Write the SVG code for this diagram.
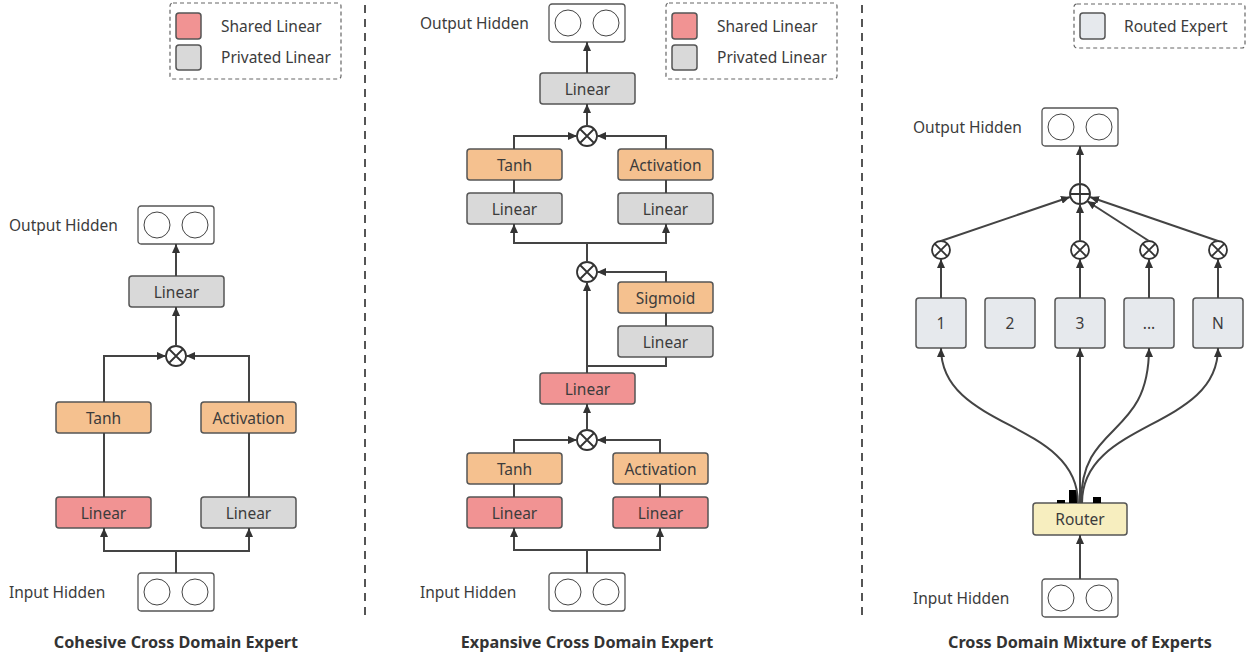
<svg xmlns="http://www.w3.org/2000/svg" width="1256" height="655" viewBox="0 0 1256 655">
  <style>
    text { font-family: "Noto Sans", "Open Sans", sans-serif; font-size: 15.5px; fill: #3c3c3c; }
    .c { text-anchor: middle; dominant-baseline: central; }
    .title { font-weight: bold; font-size: 16.2px; text-anchor: middle; fill: #333; }
    .box { stroke: #555; stroke-width: 1.5; }
    .shared { fill: #f19393; }
    .priv { fill: #d9d9d9; }
    .act { fill: #f5c18f; }
    .expert { fill: #e6e9ed; }
    .router { fill: #f7eebf; }
    .hid { fill: #fff; stroke: #555; stroke-width: 1.3; }
    .hc { fill: #fff; stroke: #444; stroke-width: 1; }
    .op { fill: #fff; stroke: #333; stroke-width: 1.8; }
    .wire { fill: none; stroke: #444; stroke-width: 2; }
    .arr { fill: none; stroke: #444; stroke-width: 2; marker-end: url(#ah); }
    .legend { fill: #fff; stroke: #666; stroke-width: 1.2; stroke-dasharray: 4 3; }
    .div { stroke: #555; stroke-width: 2; stroke-dasharray: 8 6; }
  </style>
  <defs>
    <marker id="ah" markerUnits="userSpaceOnUse" markerWidth="10" markerHeight="8" refX="9" refY="4" orient="auto">
      <path d="M0,0 L9,4 L0,8 z" fill="#333"/>
    </marker>
    <g id="mul">
      <circle r="10" class="op"/>
      <path d="M-7,-7 L7,7 M7,-7 L-7,7" stroke="#333" stroke-width="1.8"/>
    </g>
    <g id="mulS">
      <circle r="9" class="op"/>
      <path d="M-6.4,-6.4 L6.4,6.4 M6.4,-6.4 L-6.4,6.4" stroke="#333" stroke-width="1.8"/>
    </g>
    <g id="hidden">
      <rect x="0" y="0" width="76" height="38" rx="3" class="hid"/>
      <circle cx="19" cy="19" r="13" class="hc"/>
      <circle cx="57" cy="19" r="13" class="hc"/>
    </g>
  </defs>

  <!-- panel dividers -->
  <line x1="365" y1="5" x2="365" y2="618" class="div"/>
  <line x1="862" y1="5" x2="862" y2="618" class="div"/>

  <!-- ===== Cohesive Cross Domain Expert ===== -->
  <g id="legend-left">
    <rect x="170" y="3" width="171" height="76" rx="3" class="legend"/>
    <rect x="176" y="13" width="25" height="26" rx="3" class="box shared"/>
    <rect x="176" y="45" width="25" height="25" rx="3" class="box priv"/>
    <text x="221" y="32">Shared Linear</text>
    <text x="221" y="63">Privated Linear</text>
  </g>
  <g id="c-output">
    <use href="#hidden" x="138" y="206"/>
    <text x="9" y="231">Output Hidden</text>
  </g>
  <g id="c-linear-out">
    <rect x="129" y="276" width="95" height="31" rx="3" class="box priv"/>
    <text x="176.5" y="291.5" class="c">Linear</text>
  </g>
  <g id="c-mul"><use href="#mul" x="176" y="356"/></g>
  <g id="c-tanh">
    <rect x="56" y="402" width="95" height="31" rx="3" class="box act"/>
    <text x="103.5" y="417.5" class="c">Tanh</text>
  </g>
  <g id="c-activation">
    <rect x="201" y="402" width="95" height="31" rx="3" class="box act"/>
    <text x="248.5" y="417.5" class="c">Activation</text>
  </g>
  <g id="c-linear-shared">
    <rect x="56" y="497" width="95" height="31" rx="3" class="box shared"/>
    <text x="103.5" y="512.5" class="c">Linear</text>
  </g>
  <g id="c-linear-priv">
    <rect x="201" y="497" width="95" height="31" rx="3" class="box priv"/>
    <text x="248.5" y="512.5" class="c">Linear</text>
  </g>
  <g id="c-input">
    <use href="#hidden" x="138" y="573"/>
    <text x="9" y="598">Input Hidden</text>
  </g>
  <text x="176" y="648" class="title">Cohesive Cross Domain Expert</text>

  <!-- ===== Expansive Cross Domain Expert ===== -->
  <g id="legend-mid">
    <rect x="666" y="3" width="171" height="76" rx="3" class="legend"/>
    <rect x="672" y="13" width="25" height="26" rx="3" class="box shared"/>
    <rect x="672" y="45" width="25" height="25" rx="3" class="box priv"/>
    <text x="717" y="32">Shared Linear</text>
    <text x="717" y="63">Privated Linear</text>
  </g>
  <g id="e-output">
    <use href="#hidden" x="549" y="4"/>
    <text x="420" y="29">Output Hidden</text>
  </g>
  <g id="e-linear-out">
    <rect x="540" y="73" width="95" height="31" rx="3" class="box priv"/>
    <text x="587.5" y="88.5" class="c">Linear</text>
  </g>
  <g id="e-mul-top"><use href="#mul" x="587" y="136"/></g>
  <g id="e-tanh-top">
    <rect x="467" y="149" width="95" height="31" rx="3" class="box act"/>
    <text x="514.5" y="164.5" class="c">Tanh</text>
  </g>
  <g id="e-act-top">
    <rect x="618" y="149" width="95" height="31" rx="3" class="box act"/>
    <text x="665.5" y="164.5" class="c">Activation</text>
  </g>
  <g id="e-linear-tl">
    <rect x="467" y="193" width="95" height="31" rx="3" class="box priv"/>
    <text x="514.5" y="208.5" class="c">Linear</text>
  </g>
  <g id="e-linear-tr">
    <rect x="618" y="193" width="95" height="31" rx="3" class="box priv"/>
    <text x="665.5" y="208.5" class="c">Linear</text>
  </g>
  <g id="e-mul-mid"><use href="#mul" x="587" y="272"/></g>
  <g id="e-sigmoid">
    <rect x="618" y="282" width="95" height="31" rx="3" class="box act"/>
    <text x="665.5" y="297.5" class="c">Sigmoid</text>
  </g>
  <g id="e-linear-gate">
    <rect x="618" y="326" width="95" height="31" rx="3" class="box priv"/>
    <text x="665.5" y="341.5" class="c">Linear</text>
  </g>
  <g id="e-linear-shared">
    <rect x="540" y="373" width="95" height="31" rx="3" class="box shared"/>
    <text x="587.5" y="388.5" class="c">Linear</text>
  </g>
  <g id="e-mul-bot"><use href="#mul" x="587" y="440"/></g>
  <g id="e-tanh-bot">
    <rect x="467" y="453" width="95" height="31" rx="3" class="box act"/>
    <text x="514.5" y="468.5" class="c">Tanh</text>
  </g>
  <g id="e-act-bot">
    <rect x="613" y="453" width="95" height="31" rx="3" class="box act"/>
    <text x="660.5" y="468.5" class="c">Activation</text>
  </g>
  <g id="e-linear-bl">
    <rect x="467" y="497" width="95" height="31" rx="3" class="box shared"/>
    <text x="514.5" y="512.5" class="c">Linear</text>
  </g>
  <g id="e-linear-br">
    <rect x="613" y="497" width="95" height="31" rx="3" class="box shared"/>
    <text x="660.5" y="512.5" class="c">Linear</text>
  </g>
  <g id="e-input">
    <use href="#hidden" x="549" y="573"/>
    <text x="420" y="598">Input Hidden</text>
  </g>
  <text x="587" y="648" class="title">Expansive Cross Domain Expert</text>

  <!-- ===== Cross Domain Mixture of Experts ===== -->
  <g id="legend-right">
    <rect x="1074" y="4" width="171" height="44" rx="3" class="legend"/>
    <rect x="1080" y="13" width="25" height="26" rx="3" class="box expert"/>
    <text x="1124" y="32">Routed Expert</text>
  </g>
  <g id="m-output">
    <use href="#hidden" x="1042" y="108"/>
    <text x="913" y="133">Output Hidden</text>
  </g>
  <g id="m-sum">
    <circle cx="1080" cy="194" r="10" class="op"/>
    <path d="M1070,194 H1090 M1080,184 V204" stroke="#333" stroke-width="1.8"/>
  </g>
  <g id="m-mul-1"><use href="#mulS" x="941" y="250"/></g>
  <g id="m-mul-3"><use href="#mulS" x="1080" y="250"/></g>
  <g id="m-mul-4"><use href="#mulS" x="1149" y="250"/></g>
  <g id="m-mul-n"><use href="#mulS" x="1218" y="250"/></g>
  <g id="m-expert-1">
    <rect x="916" y="298" width="50" height="50" rx="3" class="box expert"/>
    <text x="941" y="323" class="c">1</text>
  </g>
  <g id="m-expert-2">
    <rect x="985" y="298" width="50" height="50" rx="3" class="box expert"/>
    <text x="1010" y="323" class="c">2</text>
  </g>
  <g id="m-expert-3">
    <rect x="1055" y="298" width="50" height="50" rx="3" class="box expert"/>
    <text x="1080" y="323" class="c">3</text>
  </g>
  <g id="m-expert-4">
    <rect x="1124" y="298" width="50" height="50" rx="3" class="box expert"/>
    <text x="1149" y="323" class="c">...</text>
  </g>
  <g id="m-expert-n">
    <rect x="1193" y="298" width="50" height="50" rx="3" class="box expert"/>
    <text x="1218" y="323" class="c">N</text>
  </g>
  <g id="m-router">
    <rect x="1033" y="503" width="94" height="32" rx="3" class="box router"/>
    <text x="1080" y="519" class="c">Router</text>
    <rect x="1057" y="500" width="8" height="3" fill="#000"/>
    <rect x="1069" y="490" width="8" height="13" fill="#000"/>
    <rect x="1093" y="497" width="8" height="6" fill="#000"/>
  </g>
  <g id="m-input">
    <use href="#hidden" x="1042" y="579"/>
    <text x="913" y="604">Input Hidden</text>
  </g>
  <text x="1080" y="648" class="title">Cross Domain Mixture of Experts</text>

  <!-- connectors -->
  <g id="connectors">
    <!-- cohesive -->
    <path d="M176,573 V551" class="wire"/>
    <path d="M176,551 H104 V528" class="arr"/>
    <path d="M176,551 H249 V528" class="arr"/>
    <path d="M104,497 V433 M249,497 V433" class="wire"/>
    <path d="M104,402 V356 H166" class="arr"/>
    <path d="M249,402 V356 H186" class="arr"/>
    <path d="M176,346 V307" class="arr"/>
    <path d="M176,276 V244" class="arr"/>

    <!-- expansive -->
    <path d="M587,573 V550" class="wire"/>
    <path d="M587,550 H514 V528" class="arr"/>
    <path d="M587,550 H660 V528" class="arr"/>
    <path d="M514,497 V484 M660,497 V484" class="wire"/>
    <path d="M514,453 V440 H577" class="arr"/>
    <path d="M660,453 V440 H597" class="arr"/>
    <path d="M587,430 V404" class="arr"/>
    <path d="M587,373 V282" class="arr"/>
    <path d="M587,366 H666 V357" class="wire"/>
    <path d="M666,326 V313" class="wire"/>
    <path d="M666,282 V272 H597" class="arr"/>
    <path d="M587,262 V243" class="wire"/>
    <path d="M587,243 H514 V224" class="arr"/>
    <path d="M587,243 H666 V224" class="arr"/>
    <path d="M514,193 V180 M666,193 V180" class="wire"/>
    <path d="M514,149 V136 H577" class="arr"/>
    <path d="M666,149 V136 H597" class="arr"/>
    <path d="M587,126 V104" class="arr"/>
    <path d="M587,73 V42" class="arr"/>

    <!-- mixture of experts -->
    <path d="M1080,579 V535" class="arr"/>
    <path d="M1078,503 C1078,420 941,430 941,348" class="arr"/>
    <path d="M1080,503 V348" class="arr"/>
    <path d="M1081,503 C1081,420 1149,440 1149,348" class="arr"/>
    <path d="M1082,503 C1082,420 1218,430 1218,348" class="arr"/>
    <path d="M941,298 V259" class="arr"/>
    <path d="M1080,298 V259" class="arr"/>
    <path d="M1149,298 V259" class="arr"/>
    <path d="M1218,298 V259" class="arr"/>
    <path d="M941,241 L1070,197" class="arr"/>
    <path d="M1080,241 V204" class="arr"/>
    <path d="M1149,241 L1087,201" class="arr"/>
    <path d="M1218,241 L1090,197" class="arr"/>
    <path d="M1080,184 V146" class="arr"/>
  </g>
</svg>
